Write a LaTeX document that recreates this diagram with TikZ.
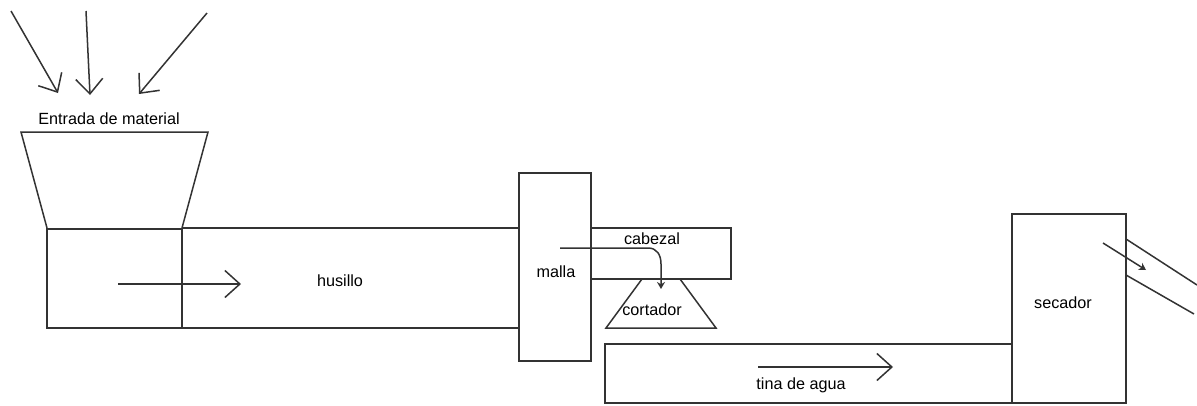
\documentclass[tikz,border=0pt]{standalone}
\usepackage{fontspec}
\setmainfont{Liberation Sans}
\usetikzlibrary{arrows.meta}
\tikzset{
  x=1pt,y=-1pt,
  part/.style={draw=black!80,line width=1.5pt,line join=miter},
  lbl/.style={inner sep=0pt,font=\fontsize{16.2}{18}\selectfont,text=black},
  flow/.style={draw=black!80,line width=1.5pt,-{Straight Barb[length=15pt,width=27pt,line width=1.5pt]}},
  flowsmall/.style={draw=black!80,line width=1.5pt,-{Stealth[length=7pt,width=8pt]}}
}
\begin{document}
\begin{tikzpicture}
\useasboundingbox (0,0) rectangle (1197,405);
% coordinates for shapes
\coordinate (h1) at (21,132); \coordinate (h2) at (208,132);
\coordinate (h3) at (182,228); \coordinate (h4) at (47,228);
\draw[part] (h4) -- (h1) -- (h2) -- (h3);
\draw[part] (47,229) rectangle (182,328);
\draw[part] (182,228) -- (519,228);
\draw[part] (182,328) -- (519,328);
\draw[part] (519,173) rectangle (591,361);
\draw[part] (591,228) -- (731,228) -- (731,279) -- (591,279);
\draw[part] (642,279) -- (606,328) -- (716,328) -- (680,279);
\draw[part] (1012,344) -- (605,344) -- (605,403) -- (1012,403);
\draw[part] (1012,214) rectangle (1126,403);
\draw[part] (1126,239) -- (1197,285);
\draw[part] (1126,275) -- (1194,314);
% labels
\node[lbl] (entrada) at (109,119) {Entrada de material};
\node[lbl] (husillo) at (340,281) {husillo};
\node[lbl] (malla) at (556,272) {malla};
\node[lbl] (cabezal) at (652,239) {cabezal};
\node[lbl] (cortador) at (652,310) {cortador};
\node[lbl] (tina) at (801,385) {tina de agua};
\node[lbl] (secador) at (1063,303) {secador};
% arrows
\coordinate (a1s) at (11,11); \coordinate (a1e) at (58,93);
\coordinate (a2s) at (86,11); \coordinate (a2e) at (90,95);
\coordinate (a3s) at (207,13); \coordinate (a3e) at (139,94);
\draw[flow] (a1s) -- (a1e);
\draw[flow] (a2s) -- (a2e);
\draw[flow] (a3s) -- (a3e);
\coordinate (b1s) at (118,284); \coordinate (b1e) at (241,284);
\draw[flow] (b1s) -- (b1e);
\coordinate (b2s) at (758,367); \coordinate (b2e) at (893,367);
\draw[flow] (b2s) -- (b2e);
\coordinate (c1s) at (560,248); \coordinate (c1e) at (661,289);
\draw[flowsmall] (c1s) -- (648,248) .. controls (657,248) and (661,255) .. (661,264) -- (c1e);
\coordinate (d1s) at (1103,243); \coordinate (d1e) at (1146,270);
\draw[flowsmall] (d1s) -- (d1e);
\end{tikzpicture}
\end{document}
